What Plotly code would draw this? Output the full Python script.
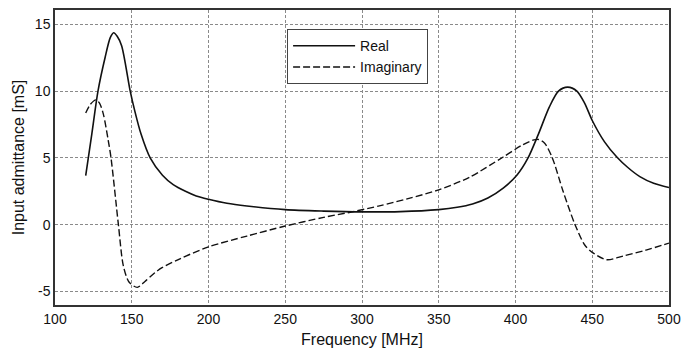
import plotly.graph_objects as go

freq_real = [120, 124, 128, 132.6, 136, 138.2, 140.5, 143.4, 149, 152, 156, 162, 170, 177, 185,
             192, 200, 212, 225, 250, 275, 300, 325, 350, 362, 372, 382, 392, 401, 408, 415, 422, 428,
             434, 440, 445, 450, 458, 466, 473, 481, 490, 500]
real_vals = [3.67, 6.8, 10.0, 12.5, 14.0, 14.37, 14.1, 13.4, 10.0, 8.5, 6.8, 5.0, 3.7, 3.0, 2.5,
             2.15, 1.9, 1.6, 1.4, 1.13, 1.02, 0.96, 0.98, 1.13, 1.3, 1.55, 2.0, 2.74, 3.72, 4.96, 6.8, 8.8, 10.0,
             10.3, 10.0, 9.1, 7.8, 6.2, 5.07, 4.3, 3.6, 3.1, 2.78]

freq_imag = [120, 123, 126.7, 129, 131.5, 134.7, 136.5, 141.3, 144.5, 148.2, 153.6, 158.6, 165,
             170, 181.4, 200, 225, 250, 275, 294, 312, 330, 350, 370, 392, 405, 412, 415, 419, 424,
             431, 438.8, 445, 450, 459.4, 470, 485, 500]
imag_vals = [8.36, 9.0, 9.34, 9.1, 8.28, 6.3, 5.0, 0.0, -3.06, -4.29, -4.69, -4.25, -3.6,
             -3.2, -2.55, -1.66, -0.85, -0.1, 0.55, 0.97, 1.43, 1.95, 2.61, 3.55, 5.07, 6.0, 6.35, 6.38,
             6.1, 5.0, 2.5, 0.0, -1.5, -2.07, -2.62, -2.35, -1.9, -1.38]

x_ticks = [100, 150, 200, 250, 300, 350, 400, 450, 500]
y_ticks = [-5, 0, 5, 10, 15]
y_ticktext = ["-5", "0", "5", "10", "15"]

fig = go.Figure()
fig.add_trace(go.Scatter(x=freq_real, y=real_vals, mode="lines", name="Real",
                         line=dict(color="#111111", width=1.6, shape="spline", smoothing=0.8)))
fig.add_trace(go.Scatter(x=freq_imag, y=imag_vals, mode="lines", name="Imaginary",
                         line=dict(color="#111111", width=1.4, dash="7px,3px", shape="spline", smoothing=0.8)))

font_family = "Liberation Sans, Arial, sans-serif"
grid = dict(showgrid=True, gridcolor="#8a8a8a", gridwidth=1, griddash="3px,2px",
            showline=True, linecolor="#333333", linewidth=1.5, mirror=True,
            ticks="", zeroline=False, tickfont=dict(size=14, color="#111111", family=font_family))

fig.update_layout(
    width=694, height=354,
    margin=dict(l=55, r=25, t=8, b=47),
    plot_bgcolor="white", paper_bgcolor="white",
    font=dict(family=font_family, color="#111111"),
    showlegend=True,
    legend=dict(x=0.378, y=0.935, xanchor="left", yanchor="top",
                bordercolor="#444444", borderwidth=1, bgcolor="white",
                font=dict(size=14, family=font_family), tracegroupgap=2,
                itemwidth=62, entrywidth=98),
    xaxis=dict(range=[100, 500], tickvals=x_ticks,
               title=dict(text="Frequency [MHz]", font=dict(size=16), standoff=8), **grid),
    yaxis=dict(range=[-6.01, 16.07], tickvals=y_ticks, ticktext=y_ticktext,
               title=dict(text="Input admittance [mS]", font=dict(size=16), standoff=6), **grid),
)

fig.write_html("out.html")
